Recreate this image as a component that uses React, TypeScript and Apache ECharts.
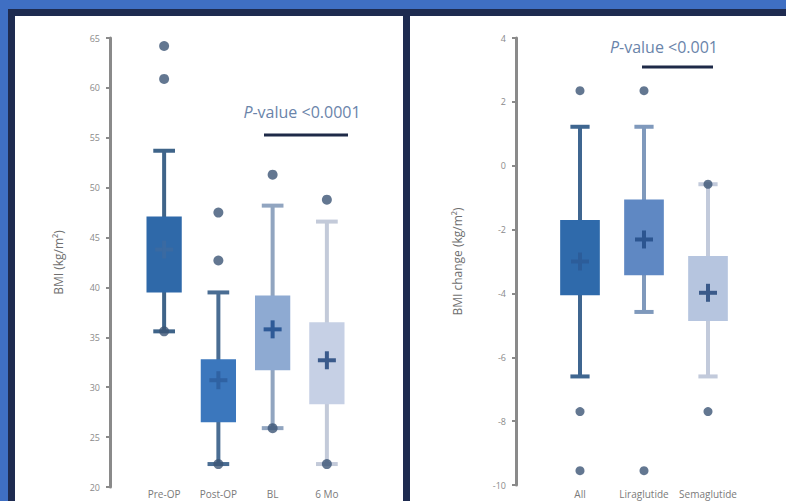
import React, { useEffect, useRef } from "react";
import * as echarts from "echarts";

// ---- Left panel: BMI ----
const leftCategories = ["Pre-OP", "Post-OP", "BL", "6 Mo"];
const leftMin = [35.6, 22.3, 25.9, 22.3];
const leftQ1 = [39.5, 26.5, 31.7, 28.3];
const leftQ3 = [47.1, 32.8, 39.2, 36.5];
const leftMax = [53.7, 39.5, 48.2, 46.6];
const leftMean = [43.8, 30.7, 35.8, 32.7];
const leftOutliers: [number, number][] = [
  [0, 64.2], [0, 60.9], [0, 35.6],
  [1, 47.5], [1, 42.7], [1, 22.3],
  [2, 51.3], [2, 25.9],
  [3, 48.8], [3, 22.3],
];
const leftTicks = { min: 20, max: 65, interval: 5 };

// ---- Right panel: BMI change ----
const rightCategories = ["All", "Liraglutide", "Semaglutide"];
const rightMin = [-6.6, -4.58, -6.6];
const rightQ1 = [-4.06, -3.43, -4.86];
const rightQ3 = [-1.7, -1.06, -2.83];
const rightMax = [1.22, 1.22, -0.58];
const rightMean = [-3.0, -2.31, -3.98];
const rightOutliers: [number, number][] = [
  [0, 2.35], [0, -7.7], [0, -9.55],
  [1, 2.35], [1, -9.55],
  [2, -0.58], [2, -7.7],
];
const rightTicks = { min: -10, max: 4, interval: 2 };

const leftStyles = [
  { box: "#2f69a9", whisker: "#3f6489", cross: "#3a6aa2" },
  { box: "#3b77bd", whisker: "#4a6d93", cross: "#2f62a3" },
  { box: "#8eaad2", whisker: "#91a5c0", cross: "#2e5a97" },
  { box: "#c6d0e5", whisker: "#c3cad9", cross: "#3a5a8b" },
];
const rightStyles = [
  { box: "#2f6aab", whisker: "#3f6690", cross: "#2c5d9a" },
  { box: "#5f88c3", whisker: "#7f99bc", cross: "#2c5590" },
  { box: "#b6c5df", whisker: "#c2cadb", cross: "#3a5a8a" },
];

function buildRows(mins: number[], q1: number[], q3: number[], maxs: number[], means: number[]) {
  return mins.map((m, i) => [i, m, q1[i], q3[i], maxs[i], means[i]]);
}

function makeRender(styles: { box: string; whisker: string; cross: string }[], boxRatio: number, capRatio: number) {
  return (params: any, api: any) => {
    const x = api.value(0);
    const band = api.size([1, 0])[0];
    const bw = band * boxRatio;
    const cw = band * capRatio;
    const pMin = api.coord([x, api.value(1)]);
    const pQ1 = api.coord([x, api.value(2)]);
    const pQ3 = api.coord([x, api.value(3)]);
    const pMax = api.coord([x, api.value(4)]);
    const pMean = api.coord([x, api.value(5)]);
    const s = styles[params.dataIndex];
    const cx = pMin[0];
    const cs = 9;
    return {
      type: "group",
      children: [
        { type: "line", shape: { x1: cx, y1: pMin[1], x2: cx, y2: pMax[1] }, style: { stroke: s.whisker, lineWidth: 4 } },
        { type: "line", shape: { x1: cx - cw / 2, y1: pMin[1], x2: cx + cw / 2, y2: pMin[1] }, style: { stroke: s.whisker, lineWidth: 4 } },
        { type: "line", shape: { x1: cx - cw / 2, y1: pMax[1], x2: cx + cw / 2, y2: pMax[1] }, style: { stroke: s.whisker, lineWidth: 4 } },
        { type: "rect", shape: { x: cx - bw / 2, y: pQ3[1], width: bw, height: pQ1[1] - pQ3[1] }, style: { fill: s.box } },
        { type: "line", shape: { x1: cx - cs, y1: pMean[1], x2: cx + cs, y2: pMean[1] }, style: { stroke: s.cross, lineWidth: 4 } },
        { type: "line", shape: { x1: cx, y1: pMean[1] - cs, x2: cx, y2: pMean[1] + cs }, style: { stroke: s.cross, lineWidth: 4 } },
      ],
    };
  };
}

const gray = "#8a8a8a";
const pColor = "#6a84aa";

export default function App() {
  const ref = useRef<HTMLDivElement>(null);
  useEffect(() => {
    if (!ref.current) return;
    const chart = echarts.init(ref.current, null, { renderer: "svg" });
    const yAxisCommon = {
      type: "value" as const,
      splitLine: { show: false },
      axisLine: { show: true, lineStyle: { color: gray, width: 3 } },
      axisTick: { show: true, length: 4, lineStyle: { color: gray, width: 2 } },
      axisLabel: { color: gray, fontSize: 9, margin: 10, fontFamily: "Open Sans" },
      nameLocation: "middle" as const,
      nameRotate: 90,
      nameTextStyle: { color: "#6f6f6f", fontSize: 12, fontFamily: "Open Sans" },
    };
    const xAxisCommon = {
      type: "category" as const,
      axisLine: { show: false },
      axisTick: { show: false },
      axisLabel: { color: "#7a7a7a", fontSize: 10, fontFamily: "Open Sans", interval: 0 },
    };
    const pText = (text: string, x: number, y: number) => ({
      type: "text", x, y,
      style: {
        text, fill: pColor, fontSize: 16, fontFamily: "Open Sans",
        align: "center", verticalAlign: "middle",
        rich: { i: { fontStyle: "italic", fill: pColor, fontSize: 16, fontFamily: "Open Sans" } },
      },
    });
    chart.setOption({
      animation: false,
      backgroundColor: "#3f6fc3",
      grid: [
        { left: 137, top: 38, width: 217, height: 449 },
        { left: 548, top: 38, width: 192, height: 447 },
      ],
      xAxis: [
        { ...xAxisCommon, gridIndex: 0, data: leftCategories, axisLabel: { ...xAxisCommon.axisLabel, margin: 2 } },
        { ...xAxisCommon, gridIndex: 1, data: rightCategories, axisLabel: { ...xAxisCommon.axisLabel, margin: 4 } },
      ],
      yAxis: [
        { ...yAxisCommon, gridIndex: 0, offset: 27, ...leftTicks, name: "BMI (kg/m²)", nameGap: 46 },
        { ...yAxisCommon, gridIndex: 1, offset: 32, ...rightTicks, name: "BMI change (kg/m²)", nameGap: 53 },
      ],
      graphic: [
        { type: "rect", z: -10, shape: { x: 8, y: 9, width: 800, height: 520 }, style: { fill: "#1e2b50" } },
        { type: "rect", z: -9, shape: { x: 15, y: 16, width: 388, height: 520 }, style: { fill: "#ffffff" } },
        { type: "rect", z: -9, shape: { x: 410, y: 16, width: 400, height: 520 }, style: { fill: "#ffffff" } },
        pText("{i|P}-value <0.0001", 302, 112),
        { type: "line", shape: { x1: 264, y1: 135, x2: 348, y2: 135 }, style: { stroke: "#1e2a48", lineWidth: 3 } },
        pText("{i|P}-value <0.001", 664, 47),
        { type: "line", shape: { x1: 642, y1: 67, x2: 713, y2: 67 }, style: { stroke: "#1e2a48", lineWidth: 3 } },
      ],
      series: [
        {
          type: "custom", xAxisIndex: 0, yAxisIndex: 0,
          renderItem: makeRender(leftStyles, 0.65, 0.4),
          encode: { x: 0, y: [1, 2, 3, 4, 5] },
          data: buildRows(leftMin, leftQ1, leftQ3, leftMax, leftMean),
          z: 2,
        },
        {
          type: "scatter", xAxisIndex: 0, yAxisIndex: 0, symbolSize: 10,
          itemStyle: { color: "#3c5575" }, data: leftOutliers, z: 3,
        },
        {
          type: "custom", xAxisIndex: 1, yAxisIndex: 1,
          renderItem: makeRender(rightStyles, 0.62, 0.3),
          encode: { x: 0, y: [1, 2, 3, 4, 5] },
          data: buildRows(rightMin, rightQ1, rightQ3, rightMax, rightMean),
          z: 2,
        },
        {
          type: "scatter", xAxisIndex: 1, yAxisIndex: 1, symbolSize: 9,
          itemStyle: { color: "#3c5575" }, data: rightOutliers, z: 3,
        },
      ],
    });
    return () => chart.dispose();
  }, []);
  return <div ref={ref} style={{ position: "fixed", left: 0, top: 0, width: 786, height: 501 }} />;
}
